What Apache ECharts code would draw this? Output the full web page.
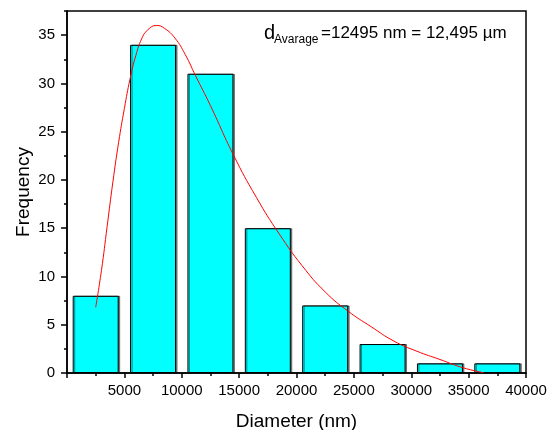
<!DOCTYPE html>
<html>
<head>
<meta charset="utf-8">
<script src="https://cdn.jsdelivr.net/npm/echarts@6/dist/echarts.min.js"></script>
<style>
  html, body { margin: 0; padding: 0; background: #fff; }
  #chart { width: 553px; height: 430px; }
</style>
</head>
<body>
<div id="chart"></div>
<script>
// bin centres (nm) and counts
var binCenters = [2500, 7500, 12500, 17500, 22500, 27500, 32500, 37500];
var counts = [8, 34, 31, 15, 7, 3, 1, 1];

// fitted curve, points [diameter, frequency]
var fitCurve = [
  [2500, 6.8], [3000, 10.6], [3500, 15.2], [4000, 19.8], [4500, 23.9],
  [5000, 27.4], [5500, 30.5], [6000, 32.9], [6500, 34.6], [7000, 35.5],
  [7800, 36.0], [8500, 35.7], [9400, 34.7], [10300, 33.0], [11200, 30.8],
  [12500, 27.7], [14500, 22.6], [16500, 18.2], [18500, 14.4], [20500, 11.1],
  [22500, 8.4], [24500, 6.4], [26500, 4.8], [28500, 3.3], [30500, 2.25],
  [32500, 1.4], [34500, 0.55], [36300, 0.03]
];

var yMajorTicks = [0, 5, 10, 15, 20, 25, 30, 35];
var yMinorTicks = [2.5, 7.5, 12.5, 17.5, 22.5, 27.5, 32.5, 37.5];

var xTitle = 'Diameter (nm)';
var yTitle = 'Frequency';
var noteMain = 'd';
var noteSub = 'Avarage';
var noteRest = '=12495 nm = 12,495 µm';

var font = 'Liberation Sans, Arial, sans-serif';

var barData = [];
for (var i = 0; i < binCenters.length; i++) {
  barData.push([binCenters[i], counts[i]]);
}

var chart = echarts.init(document.getElementById('chart'));

var option = {
  backgroundColor: '#fff',
  animation: false,
  grid: {
    left: 67, right: 27, top: 11, bottom: 57,
    outerBoundsMode: 'none',
    containLabel: false,
    show: true, borderColor: '#000', borderWidth: 1.5
  },
  xAxis: [{
    type: 'value',
    min: 0, max: 40000, interval: 5000,
    name: xTitle,
    nameLocation: 'middle',
    nameGap: 39,
    nameMoveOverlap: false,
    nameTextStyle: { fontFamily: font, fontSize: 19, color: '#000' },
    axisLine: { show: true, lineStyle: { color: '#000', width: 1.5 } },
    axisTick: { show: true, length: 5, lineStyle: { color: '#000', width: 1.5 } },
    minorTick: { show: true, splitNumber: 2, length: 3, lineStyle: { color: '#000', width: 1.5 } },
    axisLabel: {
      showMinLabel: false, margin: 10, fontFamily: font, fontSize: 15, color: '#000',
      formatter: function (v) { return String(v); }
    },
    splitLine: { show: false },
    minorSplitLine: { show: false }
  }],
  yAxis: [{
    type: 'value',
    min: 0, max: 37.5,
    name: yTitle,
    nameLocation: 'middle',
    nameGap: 34,
    nameMoveOverlap: false,
    nameTextStyle: { fontFamily: font, fontSize: 19, color: '#000' },
    axisLine: { show: true, lineStyle: { color: '#000', width: 1.5 } },
    axisTick: { show: true, length: 6, customValues: yMajorTicks, lineStyle: { color: '#000', width: 1.5 } },
    axisLabel: { customValues: yMajorTicks, margin: 12, fontFamily: font, fontSize: 15, color: '#000' },
    splitLine: { show: false }
  }, {
    type: 'value',
    min: 0, max: 37.5,
    position: 'left',
    axisLine: { show: false },
    axisTick: { show: true, length: 3, customValues: yMinorTicks, lineStyle: { color: '#000', width: 1.5 } },
    axisLabel: { show: false },
    splitLine: { show: false }
  }],
  graphic: [
    { type: 'text', left: 264, top: 23, style: { text: noteMain, font: '20px ' + font, fill: '#000' } },
    { type: 'text', left: 274, top: 34, style: { text: noteSub, font: '12px ' + font, fill: '#000' } },
    { type: 'text', left: 321, top: 25, style: { text: noteRest, font: '17px ' + font, fill: '#000' } }
  ],
  series: [{
    type: 'bar',
    data: barData,
    barWidth: 46,
    itemStyle: {
      color: '#00ffff',
      borderColor: '#000',
      borderWidth: 1,
      shadowColor: 'rgba(0,0,0,0.45)',
      shadowOffsetX: 1.5,
      shadowBlur: 0
    },
    z: 2
  }, {
    type: 'line',
    data: fitCurve,
    smooth: 0.5,
    showSymbol: false,
    lineStyle: { color: '#ff0000', width: 1 },
    z: 3
  }]
};

chart.setOption(option);
</script>
</body>
</html>
